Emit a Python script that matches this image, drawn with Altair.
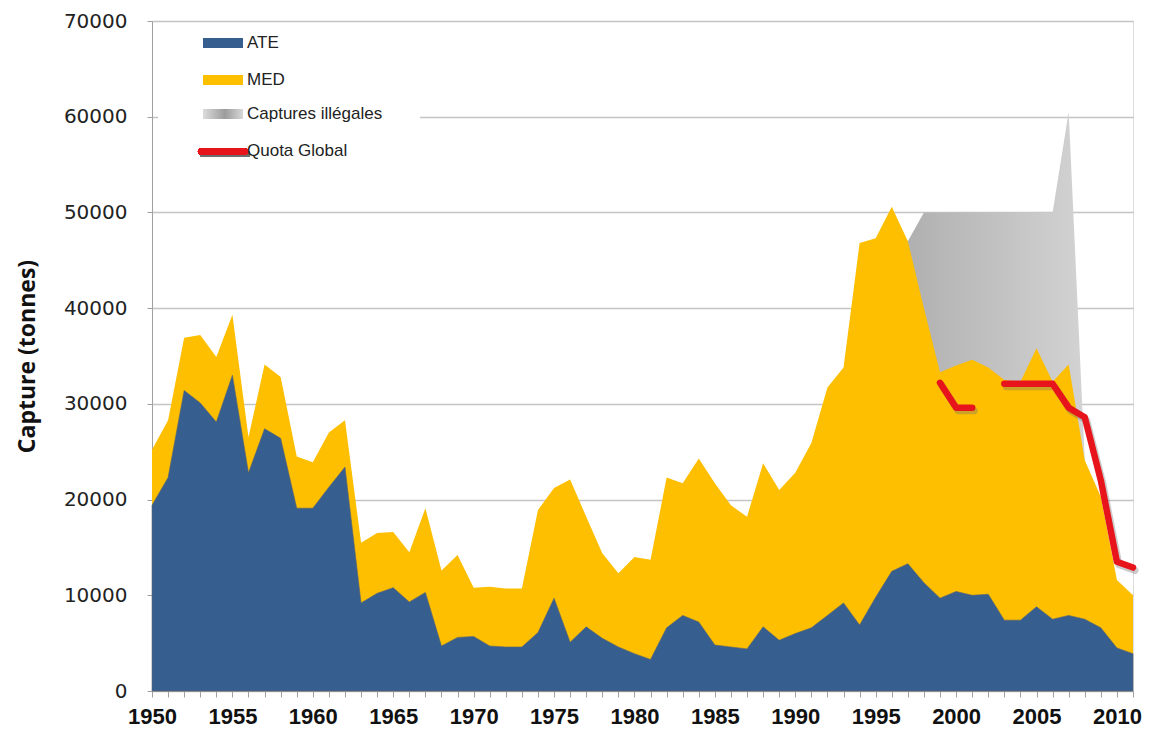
import altair as alt
import pandas as pd

# ---------------- data ----------------
years = list(range(1950, 2012))

ate = [19400, 22300, 31400, 30100, 28100, 33000, 22800, 27400, 26400, 19100,
       19100, 21300, 23400, 9200, 10200, 10800, 9300, 10300, 4700, 5600,
       5700, 4700, 4600, 4600, 6100, 9700, 5100, 6700, 5500, 4600,
       3900, 3300, 6600, 7900, 7200, 4800, 4600, 4400, 6700, 5300,
       6000, 6600, 7900, 9200, 6900, 9800, 12500, 13300, 11300, 9700,
       10400, 10000, 10100, 7400, 7400, 8800, 7500, 7900, 7500, 6600,
       4500, 3900]

# ATE + MED (top of the yellow area)
ate_med = [25200, 28300, 36900, 37200, 34900, 39300, 26500, 34100, 32800, 24500,
           23900, 27000, 28300, 15500, 16500, 16600, 14500, 19100, 12600, 14200,
           10800, 10900, 10700, 10700, 18900, 21200, 22100, 18200, 14400, 12300,
           14000, 13700, 22300, 21700, 24300, 21700, 19400, 18200, 23800, 21000,
           22800, 25900, 31700, 33800, 46800, 47300, 50600, 47000, 40000, 33300,
           34000, 34600, 33800, 32500, 32300, 35800, 32300, 34100, 24100, 20300,
           11600, 10000]

# ATE + MED + illegal catches (top of the grey area)
illegal_years = list(range(1997, 2009))
illegal_top = [47000, 50000, 50000, 50000, 50000, 50000, 50000, 50000, 50000,
               50000, 60500, 24100]

quota_years = list(range(1999, 2012))
quota = [32200, 29600, 29600, None, 32100, 32100, 32100, 32100, 29600, 28600,
         22000, 13500, 12900]

legend_labels = ["ATE", "MED", "Captures illégales", "Quota Global"]

y_ticks = list(range(0, 70001, 10000))

# ---------------- tables ----------------
df_main = pd.DataFrame({"year": years, "ate": ate, "total": ate_med})
df_ate = pd.DataFrame({"year": years, "v": ate})
df_tot = pd.DataFrame({"year": years, "v": ate_med})
df_ill = pd.DataFrame({"year": illegal_years, "v": illegal_top})

q_rows = []
seg = 0
prev_none = True
for yr, q in zip(quota_years, quota):
    if q is None:
        prev_none = True
        continue
    if prev_none:
        seg += 1
        prev_none = False
    q_rows.append({"year": yr, "v": q, "seg": seg})
df_q = pd.DataFrame(q_rows)

# ---------------- colours ----------------
BLUE = "#365f8f"
GOLD = "#fdbf00"
RED = "#e8141b"
grey_grad = alt.Gradient(
    gradient="linear",
    stops=[alt.GradientStop(color="#b0b0b0", offset=0),
           alt.GradientStop(color="#d3d3d3", offset=1)],
    x1=0, x2=1, y1=0, y2=0)
legend_grad = alt.Gradient(
    gradient="linear",
    stops=[alt.GradientStop(color="#dcdcdc", offset=0),
           alt.GradientStop(color="#9c9c9c", offset=0.55),
           alt.GradientStop(color="#d8d8d8", offset=1)],
    x1=0, x2=1, y1=0, y2=0)

# ---------------- shared encodings ----------------
x_axis = alt.Axis(values=years, labelExpr="datum.value % 5 == 0 ? datum.label : ''",
                  format="d", grid=False, tickSize=6, tickColor="#a0a0a0",
                  domainColor="#a0a0a0", labelFont="Liberation Sans",
                  labelFontWeight="bold", labelFontSize=22, labelColor="#111111",
                  labelPadding=9, labelOverlap=False, labelFlush=False, title=None)
y_axis = alt.Axis(values=y_ticks, format="d", grid=True, gridColor="#c4c4c4",
                  gridWidth=1.5, tickSize=5, tickColor="#a0a0a0",
                  domainColor="#a0a0a0", labelFont="DejaVu Sans", labelFontSize=20,
                  labelColor="#222222", labelPadding=20,
                  title="Capture (tonnes)", titleFont="Open Sans", titleFontSize=23,
                  titleFontWeight="bold", titleColor="#111111", titlePadding=24)

X = alt.X("year:Q", scale=alt.Scale(domain=[1950, 2011], nice=False, zero=False),
          axis=x_axis)
Y = alt.Y("v:Q", scale=alt.Scale(domain=[0, 70000], nice=False), axis=y_axis)

grey = alt.Chart(df_ill).mark_area(color=grey_grad, opacity=1).encode(x=X, y=Y)
gold = alt.Chart(df_tot).mark_area(color=GOLD, opacity=1).encode(x=X, y=Y)
blue = alt.Chart(df_ate).mark_area(color=BLUE, opacity=1,
                                   stroke="#5a6270", strokeWidth=0.6).encode(x=X, y=Y)
quota_shadow = alt.Chart(df_q).mark_line(color="#6e6e6e", opacity=0.35, strokeWidth=7,
                                         strokeCap="round", strokeJoin="round",
                                         xOffset=2, yOffset=3).encode(
    x=X, y=Y, detail="seg:N")
quota_line = alt.Chart(df_q).mark_line(color=RED, strokeWidth=6.5, strokeCap="round",
                                       strokeJoin="round").encode(
    x=X, y=Y, detail="seg:N")

# ---------------- hand-made legend (top-left, inside the plot) ----------------
leg_bg = alt.Chart(df_main).mark_rect(color="white").encode(
    x=alt.value(6), x2=alt.value(268), y=alt.value(3), y2=alt.value(152))
sw_ate = alt.Chart(df_main).mark_rect(color=BLUE).encode(
    x=alt.value(51), x2=alt.value(91), y=alt.value(17), y2=alt.value(27))
sw_med = alt.Chart(df_main).mark_rect(color=GOLD).encode(
    x=alt.value(51), x2=alt.value(91), y=alt.value(54), y2=alt.value(64))
sw_ill = alt.Chart(df_main).mark_rect(color=legend_grad).encode(
    x=alt.value(51), x2=alt.value(91), y=alt.value(88), y2=alt.value(98))
sw_q_sh = alt.Chart(df_main).mark_rule(color="#6e6e6e", opacity=0.3, strokeWidth=6,
                                       strokeCap="round").encode(
    x=alt.value(51), x2=alt.value(95), y=alt.value(133))
sw_q = alt.Chart(df_main).mark_rule(color=RED, strokeWidth=6, strokeCap="round").encode(
    x=alt.value(49), x2=alt.value(93), y=alt.value(130.5))

legend_y = [22, 59, 93, 130]
texts = []
for lab, yy in zip(legend_labels, legend_y):
    texts.append(
        alt.Chart(pd.DataFrame({"t": [lab]})).mark_text(
            align="left", baseline="middle", font="Liberation Sans", fontSize=17,
            color="#222222").encode(x=alt.value(95), y=alt.value(yy), text="t:N"))

chart = alt.layer(
    grey, gold, blue, quota_shadow, quota_line,
    leg_bg, sw_ate, sw_med, sw_ill, sw_q_sh, sw_q, *texts
).properties(
    width=981, height=670,
    padding={"left": 144, "top": 13, "right": 9, "bottom": 47},
    autosize=alt.AutoSizeParams(type="none"),
).configure_view(
    stroke="#a8a8a8", strokeWidth=1.2
).configure(background="white")

chart.save("out.html", embed_options={"renderer": "svg", "actions": False})
